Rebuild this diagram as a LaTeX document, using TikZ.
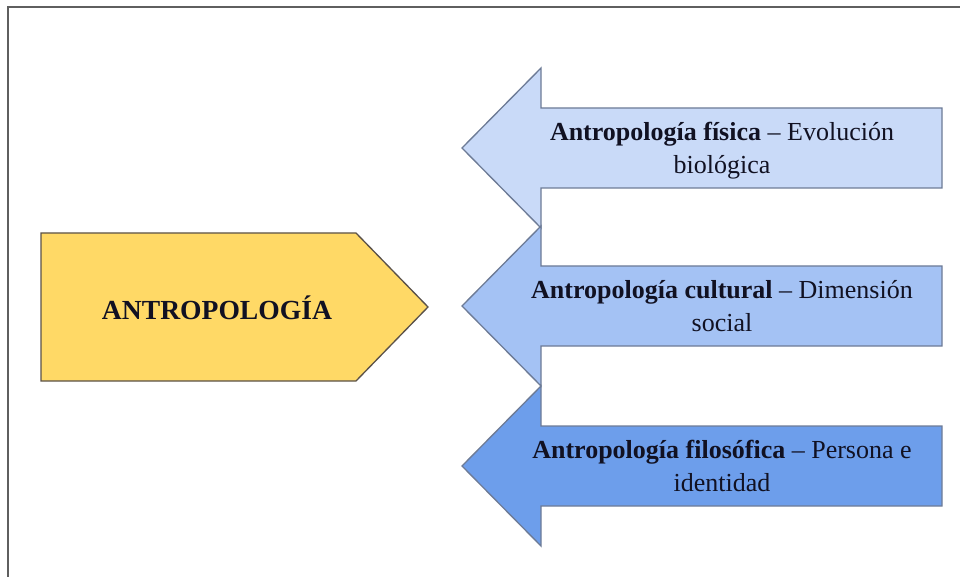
\documentclass[tikz,border=0pt]{standalone}
\usepackage{fontspec}
\setmainfont{Liberation Serif}
\definecolor{hubfill}{HTML}{FFD966}
\definecolor{hubline}{HTML}{5A5149}
\definecolor{blueA}{HTML}{C9DAF8}
\definecolor{blueB}{HTML}{A4C2F4}
\definecolor{blueC}{HTML}{6D9EEB}
\definecolor{arrowline}{HTML}{6D7B96}
\definecolor{ink}{HTML}{111122}
\definecolor{framegray}{HTML}{5F5F5F}
\tikzset{
  framebox/.style={draw=framegray, line width=1.5pt},
  hub/.style={fill=hubfill, draw=hubline, line width=1pt, line join=miter},
  hubtext/.style={text=ink, font=\fontsize{20.7}{24}\selectfont\bfseries},
  branchtext/.style={text=ink, align=center, text depth=4pt,
    font=\fontsize{19.5}{24.5}\selectfont},
  branch/.pic={
    \path[pic actions] (462,0) -- (541,-80) -- (541,-40) -- (942,-40)
      -- (942,40) -- (541,40) -- (541,80) -- cycle;
  }
}
\begin{document}
\begin{tikzpicture}[x=0.75pt, y=-0.75pt]
\useasboundingbox (0,0) rectangle (960,577);
\clip (0,0) rectangle (960,577);
% outer frame
\draw[framebox] (8,7) rectangle (980,600);
% central pentagon
\draw[hub] (41,233) -- (356,233) -- (428,307) -- (356,381) -- (41,381) -- cycle;
\node[hubtext] (antro) at (217,308) {ANTROPOLOGÍA};
% three branch arrows pointing left
\pic[fill=blueA, draw=arrowline, line width=1pt] at (0,148) {branch};
\pic[fill=blueB, draw=arrowline, line width=1pt] at (0,306) {branch};
\pic[fill=blueC, draw=arrowline, line width=1pt] at (0,466) {branch};
\node[branchtext] (fisica) at (722,150.5)
  {\textbf{Antropología física} – Evolución\\biológica};
\node[branchtext] (cultural) at (722,308.5)
  {\textbf{Antropología cultural} – Dimensión\\social};
\node[branchtext] (filosofica) at (722,468.5)
  {\textbf{Antropología filosófica} – Persona e\\identidad};
\end{tikzpicture}
\end{document}
